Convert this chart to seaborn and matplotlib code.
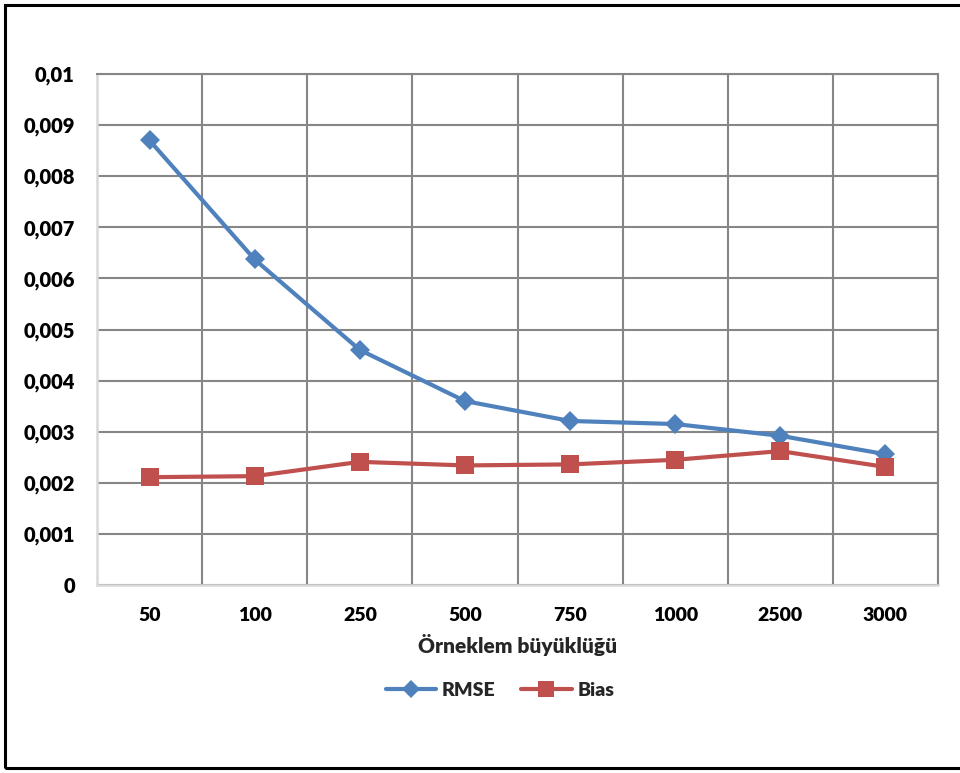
import matplotlib
matplotlib.use("Agg")
import matplotlib.pyplot as plt
import seaborn as sns
import pandas as pd
from matplotlib.patches import Rectangle
from matplotlib.lines import Line2D
from matplotlib.ticker import FixedLocator, FixedFormatter

# Sample sizes and the two error measures
sample_sizes = ["50", "100", "250", "500", "750", "1000", "2500", "3000"]
rmse = [0.0087, 0.00637, 0.0046, 0.0036, 0.00321, 0.00315, 0.00292, 0.00256]
bias = [0.00211, 0.00213, 0.00241, 0.00234, 0.00236, 0.00245, 0.00262, 0.00231]

y_ticks = [0, 0.001, 0.002, 0.003, 0.004, 0.005, 0.006, 0.007, 0.008, 0.009, 0.01]
y_tick_labels = ["0", "0,001", "0,002", "0,003", "0,004", "0,005",
                 "0,006", "0,007", "0,008", "0,009", "0,01"]
x_label = "Örneklem büyüklüğü"
series_names = ["RMSE", "Bias"]
colors = {"RMSE": "#4F81BD", "Bias": "#C0504D"}

df = pd.DataFrame({
    "n": sample_sizes * 2,
    "value": rmse + bias,
    "series": [series_names[0]] * len(rmse) + [series_names[1]] * len(bias),
})

sns.set_theme(style="white")
plt.rcParams["font.family"] = ["Lato", "DejaVu Sans"]
WEIGHT = "heavy"
plt.rcParams["font.weight"] = WEIGHT

W, H = 960, 773
fig = plt.figure(figsize=(W / 100, H / 100), dpi=100)
ax = fig.add_axes([97 / W, 1 - 585 / H, (938 - 97) / W, (585 - 74) / H])

grid_col = "#868686"
light_col = "#D9D9D9"

# RMSE first, Bias drawn on top
sns.lineplot(data=df[df["series"] == "RMSE"], x="n", y="value", color=colors["RMSE"],
             marker="D", markersize=10.5, markeredgewidth=0, linewidth=3.0,
             sort=False, ax=ax, zorder=3)
sns.lineplot(data=df[df["series"] == "Bias"], x="n", y="value", color=colors["Bias"],
             marker="s", markersize=13, markeredgewidth=0, linewidth=3.0,
             sort=False, ax=ax, zorder=4)

ax.set_xlim(-0.5, len(sample_sizes) - 0.5)
ax.set_ylim(0, 0.01)

# x: labels at category centres, tick marks and grid at category borders
ax.xaxis.set_major_locator(FixedLocator(range(len(sample_sizes))))
ax.xaxis.set_major_formatter(FixedFormatter(sample_sizes))
ax.xaxis.set_minor_locator(FixedLocator([i - 0.5 for i in range(len(sample_sizes) + 1)]))
ax.tick_params(axis="x", which="major", length=0, pad=16, labelsize=14, labelcolor="black")
ax.tick_params(axis="x", which="minor", length=7, width=1.5, color=light_col, direction="out")
ax.grid(True, axis="x", which="minor", color=grid_col, linewidth=1.5)
ax.grid(False, axis="x", which="major")

ax.yaxis.set_major_locator(FixedLocator(y_ticks))
ax.yaxis.set_major_formatter(FixedFormatter(y_tick_labels))
ax.tick_params(axis="y", which="major", length=7, width=1.5, color=grid_col,
               direction="out", pad=9, labelsize=14.5, labelcolor="black")
ax.grid(True, axis="y", which="major", color=grid_col, linewidth=1.5)
ax.set_axisbelow(True)
for lbl in ax.get_xticklabels() + ax.get_yticklabels():
    lbl.set_fontweight(WEIGHT)

for side in ["left", "bottom"]:
    ax.spines[side].set_color(light_col)
    ax.spines[side].set_linewidth(1.8)
for side in ["top", "right"]:
    ax.spines[side].set_color(grid_col)
    ax.spines[side].set_linewidth(1.5)
for s in ax.spines.values():
    s.set_visible(True)

ax.set_xlabel(x_label, fontsize=15, fontweight=WEIGHT, labelpad=7)
ax.set_ylabel("")

handles = [
    Line2D([], [], color=colors["RMSE"], marker="D", markersize=9, markeredgewidth=0, linewidth=3),
    Line2D([], [], color=colors["Bias"], marker="s", markersize=11, markeredgewidth=0, linewidth=3),
]
fig.legend(handles, series_names, loc="center", bbox_to_anchor=(500 / W, 1 - 690 / H),
           ncol=2, frameon=False, handlelength=2.6, handletextpad=0.3,
           columnspacing=1.3, prop={"weight": WEIGHT, "size": 14})

# Chart border
fig.add_artist(Rectangle((5 / W, 5 / H), 1.2, (768 - 3) / H - 2 / H, transform=fig.transFigure,
                         fill=False, edgecolor="black", linewidth=2.2))

fig.savefig("out.png", dpi=100, facecolor="white")
